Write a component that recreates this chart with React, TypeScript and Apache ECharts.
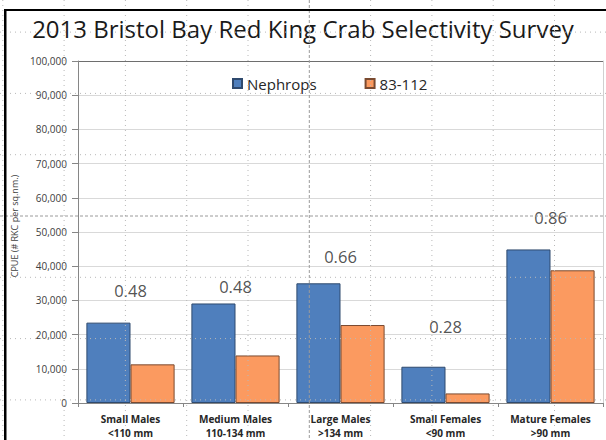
import React, { useEffect, useRef } from "react";
import * as echarts from "echarts";

const categories = ["Small Males\n<110 mm", "Medium Males\n110-134 mm", "Large Males\n>134 mm", "Small Females\n<90 mm", "Mature Females\n>90 mm"];
const nephrops = [23500, 29100, 35000, 10600, 44900];
const trawl83112 = [11300, 13900, 22800, 2800, 38800];
const ratios = ["0.48", "0.48", "0.66", "0.28", "0.86"];
const ratioLabelY = [32800, 34000, 42800, 22300, 54100];
const yTicks = { min: 0, max: 100000, interval: 10000 };

const FONT = "'Open Sans', 'Noto Sans', sans-serif";

function overlayGrid() {
  const els: any[] = [];
  const step = 61.3;
  const cx = 309.3;
  const cy = 216;
  for (let k = -5; k <= 4; k++) {
    const x = cx + k * step;
    const center = k === 0;
    els.push({
      type: "line",
      z: 100,
      silent: true,
      shape: { x1: x, y1: 0, x2: x, y2: 440 },
      style: { stroke: center ? "#9a9a9a" : "#b8b8b8", lineWidth: 1, lineDash: center ? [3, 2] : [1, 4] },
    });
  }
  for (let k = -3; k <= 3; k++) {
    const y = cy + k * step;
    const center = k === 0;
    els.push({
      type: "line",
      z: 100,
      silent: true,
      shape: { x1: 0, y1: y, x2: 606, y2: y },
      style: { stroke: center ? "#9a9a9a" : "#b8b8b8", lineWidth: 1, lineDash: center ? [3, 2] : [1, 4] },
    });
  }
  els.push({ type: "rect", z: 101, silent: true, shape: { x: 4, y: 9, width: 2.5, height: 431 }, style: { fill: "#000" } });
  els.push({ type: "rect", z: 101, silent: true, shape: { x: 4, y: 9, width: 602, height: 2 }, style: { fill: "#000" } });
  return els;
}

export default function App() {
  const ref = useRef<HTMLDivElement>(null);
  useEffect(() => {
    if (!ref.current) return;
    const chart = echarts.init(ref.current, null, { renderer: "svg" });
    const splitColors = Array.from({ length: 11 }, (_, i) => (i === 10 ? "#6e6e6e" : "#d9d9d9"));
    chart.setOption({
      animation: false,
      backgroundColor: "#ffffff",
      textStyle: { fontFamily: FONT },
      title: {
        text: "2013 Bristol Bay Red King Crab Selectivity Survey",
        left: "center",
        top: 11,
        textStyle: { fontFamily: FONT, fontSize: 24, fontWeight: "normal", color: "#1a1a1a" },
      },
      legend: {
        data: ["Nephrops", "83-112"],
        left: 227,
        top: 71,
        itemWidth: 9,
        itemHeight: 9,
        itemGap: 48,
        itemTextGap: 6,
        icon: "rect",
        textStyle: { fontFamily: FONT, fontSize: 15, color: "#262626", width: 70 },
      },
      grid: { left: 78, right: 3, top: 61, bottom: 37, containLabel: false },
      xAxis: {
        type: "category",
        data: categories,
        axisLine: { lineStyle: { color: "#868686" } },
        axisTick: { show: true, length: 4, lineStyle: { color: "#868686" } },
        axisLabel: {
          interval: 0,
          margin: 9,
          fontFamily: FONT,
          fontSize: 10,
          fontWeight: "bold",
          color: "#262626",
          lineHeight: 14,
        },
      },
      yAxis: [
        {
          type: "value",
          min: yTicks.min,
          max: yTicks.max,
          interval: yTicks.interval,
          name: "CPUE (# RKC per sq.nm.)",
          nameLocation: "middle",
          nameGap: 49,
          nameTextStyle: { fontFamily: FONT, fontSize: 9, color: "#404040", padding: [0, 0, 0, 12] },
          axisLine: { show: true, lineStyle: { color: "#868686" } },
          axisTick: { show: true, length: 6, lineStyle: { color: "#868686" } },
          axisLabel: {
            margin: 11,
            fontFamily: FONT,
            fontSize: 10,
            color: "#404040",
            formatter: (v: number) => v.toLocaleString("en-US"),
          },
          splitLine: { show: true, lineStyle: { color: splitColors, width: 1 } },
        },
        {
          type: "value",
          position: "right",
          min: yTicks.min,
          max: yTicks.max,
          interval: yTicks.interval,
          axisLine: { show: true, lineStyle: { color: "#d0d0d0" } },
          axisTick: { show: false },
          axisLabel: { show: false },
          splitLine: { show: false },
        },
      ],
      series: [
        {
          name: "Nephrops",
          type: "bar",
          data: nephrops,
          barGap: "0%",
          barCategoryGap: "16%",
          itemStyle: { color: "#4f7fbd", borderColor: "#2f4a6e", borderWidth: 1 },
        },
        {
          name: "83-112",
          type: "bar",
          data: trawl83112,
          barGap: "0%",
          barCategoryGap: "16%",
          itemStyle: { color: "#fb9a60", borderColor: "#7a4a30", borderWidth: 1 },
        },
        {
          name: "ratio",
          type: "scatter",
          data: ratioLabelY,
          symbolSize: 0,
          silent: true,
          label: {
            show: true,
            position: "inside",
            formatter: (p: any) => ratios[p.dataIndex],
            fontFamily: FONT,
            fontSize: 16.5,
            color: "#262626",
          },
          z: 5,
        },
      ],
      graphic: overlayGrid(),
    });
    return () => chart.dispose();
  }, []);
  return <div ref={ref} style={{ width: 606, height: 440, position: "fixed", left: 0, top: 0 }} />;
}
